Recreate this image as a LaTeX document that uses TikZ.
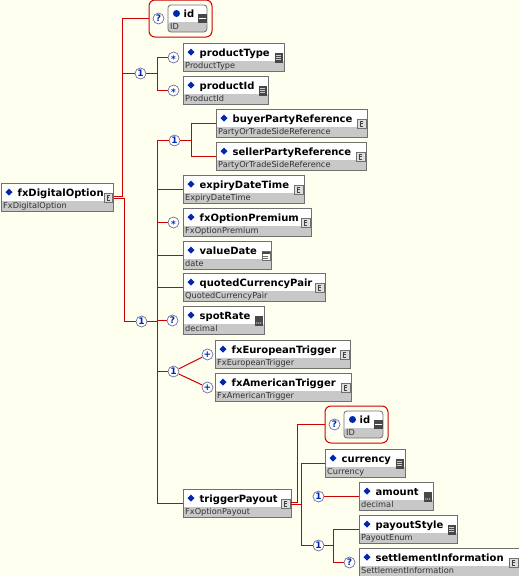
\documentclass[tikz,border=0pt]{standalone}
\usepackage{fontspec}
\setmainfont{DejaVu Sans}
\usetikzlibrary{positioning}
\definecolor{paper}{RGB}{255,255,240}
\definecolor{wirered}{RGB}{204,0,0}
\definecolor{rowgray}{RGB}{200,200,200}
\definecolor{edgegray}{RGB}{112,112,112}
\definecolor{markblue}{RGB}{0,40,170}
\definecolor{icondark}{RGB}{72,72,72}
\definecolor{ringgray}{RGB}{110,110,160}

\tikzset{
  wire/.style={draw=wirered, line width=1pt},
  elbox/.style={draw=edgegray, fill=white, line width=0.8pt, inner sep=0pt,
    minimum height=28pt, anchor=west,
    path picture={\fill[rowgray] ([yshift=-3.5pt]path picture bounding box.west)
      rectangle (path picture bounding box.south east);}},
  attbox/.style={elbox, rounded corners=3pt, minimum width=39pt, minimum height=27pt},
  attframe/.style={draw=wirered, line width=1pt, rounded corners=6pt, inner sep=0pt,
    minimum width=63pt, minimum height=37pt, anchor=west},
  occ/.style={circle, draw=ringgray, fill=white, line width=0.7pt, inner sep=0pt,
    minimum size=11pt, text=markblue, font=\fontsize{9}{9}\selectfont\bfseries},
  namefont/.style={anchor=base west, inner sep=0pt, font=\fontsize{10}{12}\selectfont\bfseries},
  typefont/.style={anchor=base west, inner sep=0pt, text=black!80,
    font=\fontsize{8.2}{10}\selectfont}
}
\newcommand{\many}{\raisebox{-5pt}[0pt][0pt]{*}}

% element box: name, x, ymid, width, label, type, icon
\newcommand{\elem}[7]{%
  \node[elbox, minimum width=#4pt] (#1) at (#2,#3) {};
  \fill[markblue] ([shift={(5pt,5.5pt)}]#1.west) -- ++(3.5pt,3.5pt) -- ++(3.5pt,-3.5pt)
    -- ++(-3.5pt,-3.5pt) -- cycle;
  \node[namefont] at ([shift={(17pt,1pt)}]#1.west) {#5};
  \node[typefont] at ([shift={(2.5pt,-11pt)}]#1.west) {#6};
  #7{#1}}

% attribute id inside its red frame: name, x, ymid
\newcommand{\attr}[3]{%
  \node[attframe] (#1f) at (#2,#3) {};
  \node[occ] (#1o) at ([xshift=10pt]#1f.west) {?};
  \node[attbox] (#1) at ([xshift=19pt]#1f.west) {};
  \fill[markblue] ([shift={(9pt,5pt)}]#1.west) circle (3.5pt);
  \node[namefont] at ([shift={(16pt,1pt)}]#1.west) {id};
  \node[typefont] at ([shift={(2.5pt,-11pt)}]#1.west) {ID};
  \icAttr{#1}}

% icons
\newcommand{\icCplx}[1]{%
  \draw[edgegray, fill=rowgray!60, line width=0.6pt] ([shift={(-10pt,4.5pt)}]#1.east)
    rectangle ([shift={(-1.5pt,-5pt)}]#1.east);
  \draw[black!75, line width=0.6pt] ([shift={(-4pt,2.5pt)}]#1.east) -- ++(-3pt,0)
    -- ++(0,-5.5pt) -- ++(3pt,0) ([shift={(-7pt,0pt)}]#1.east) -- ++(2.5pt,0);}
\newcommand{\icEnum}[1]{%
  \fill[icondark] ([shift={(-9.5pt,4.5pt)}]#1.east) rectangle ([shift={(-1.5pt,-5.5pt)}]#1.east);
  \foreach \k in {2.5,0.5,-1.5}
    \draw[gray!40, line width=0.6pt] ([shift={(-8pt,\k pt)}]#1.east) -- ++(5pt,0);}
\newcommand{\icDec}[1]{%
  \fill[icondark] ([shift={(-9.5pt,4.5pt)}]#1.east) rectangle ([shift={(-1.5pt,-5.5pt)}]#1.east);
  \foreach \k in {-7.5,-5.5,-3.5}
    \fill[white] ([shift={(\k pt,-2.5pt)}]#1.east) circle (0.6pt);}
\newcommand{\icDate}[1]{%
  \draw[edgegray, fill=white, line width=0.6pt] ([shift={(-9.5pt,4pt)}]#1.east)
    rectangle ([shift={(-1.5pt,-5pt)}]#1.east);
  \fill[icondark] ([shift={(-9.5pt,4pt)}]#1.east) rectangle ([shift={(-1.5pt,1.5pt)}]#1.east);
  \draw[edgegray, line width=0.4pt] ([shift={(-8pt,-1pt)}]#1.east) -- ++(5pt,0)
    ([shift={(-8pt,-3pt)}]#1.east) -- ++(5pt,0);}
\newcommand{\icAttr}[1]{%
  \fill[icondark] ([shift={(-9pt,4.5pt)}]#1.east) rectangle ([shift={(-0.5pt,-4.5pt)}]#1.east);
  \draw[white, line width=1pt] ([shift={(-8pt,0pt)}]#1.east) -- ++(6.5pt,0);}

\begin{document}
\begin{tikzpicture}[x=1pt, y=-1pt]
  \useasboundingbox (0,0) rectangle (519,576);
  \fill[paper] (0,0) rectangle (519,576);
  \begin{scope}[shift={(0.5pt,-0.5pt)}]

  % root and first level
  \elem{fxdo}{0}{197}{112.5}{fxDigitalOption}{FxDigitalOption}{\icCplx}
  \attr{ida}{148}{18}
  \node[occ] (c1) at (140,73) {1};
  \node[occ] (optype) at (173,57) {\many};
  \elem{ptype}{182}{57}{101}{productType}{ProductType}{\icEnum}
  \node[occ] (opid) at (173,90) {\many};
  \elem{pid}{182}{90}{85}{productId}{ProductId}{\icEnum}
  \node[occ] (s1) at (141,321) {1};

  % sequence content
  \node[occ] (c2) at (174,140) {1};
  \elem{buyer}{215}{123}{151}{buyerPartyReference}{PartyOrTradeSideReference}{\icCplx}
  \elem{seller}{215}{156}{150}{sellerPartyReference}{PartyOrTradeSideReference}{\icCplx}
  \elem{expiry}{182}{189}{121}{expiryDateTime}{ExpiryDateTime}{\icCplx}
  \node[occ] (oprem) at (173,222) {\many};
  \elem{prem}{182}{222}{128}{fxOptionPremium}{FxOptionPremium}{\icCplx}
  \elem{vdate}{182}{255}{88}{valueDate}{date}{\icDate}
  \elem{qcp}{182}{287}{142}{quotedCurrencyPair}{QuotedCurrencyPair}{\icCplx}
  \node[occ] (ospot) at (172,320) {?};
  \elem{spot}{182}{320}{81}{spotRate}{decimal}{\icDec}
  \node[occ] (c3) at (173,371) {1};
  \node[occ] (oeu) at (207,354) {+};
  \elem{euro}{214}{354}{135}{fxEuropeanTrigger}{FxEuropeanTrigger}{\icCplx}
  \node[occ] (oam) at (207,387) {+};
  \elem{amer}{214}{387}{136}{fxAmericanTrigger}{FxAmericanTrigger}{\icCplx}
  \elem{trig}{182}{503}{108}{triggerPayout}{FxOptionPayout}{\icCplx}

  % triggerPayout content
  \attr{idb}{324}{424}
  \elem{cur}{324}{463}{80}{currency}{Currency}{\icEnum}
  \node[occ] (c4) at (318,496) {1};
  \elem{amt}{358}{496}{74}{amount}{decimal}{\icDec}
  \node[occ] (s2) at (318,545) {1};
  \elem{pstyle}{358}{529}{98}{payoutStyle}{PayoutEnum}{\icEnum}
  \node[occ] (oset) at (349,562) {?};
  \elem{settle}{358}{562}{160}{settlementInformation}{SettlementInformation}{\icCplx}

  % connectors of fxDigitalOption
  \coordinate (ja) at ([shift={(9pt,1pt)}]fxdo.east);
  \coordinate (jb) at ([shift={(11pt,-1pt)}]fxdo.east);
  \draw[wire] ([yshift=1pt]fxdo.east) -- (ja) |- (idaf.west);
  \draw[wire] (ja |- c1) -- (c1.west);
  \draw[wire] ([yshift=-1pt]fxdo.east) -- (jb) |- (s1.west);
  \coordinate (bus) at (157,0);
  \draw[wire] (c1.east) -- (c1 -| bus);
  \draw[wire] (optype.west) -| (c1 -| bus) |- (opid.west);

  % sequence bus
  \draw[wire] (s1.east) -- (s1 -| bus);
  \draw[wire] (c2.west) -| (trig -| bus) -- (trig.west);
  \foreach \n in {expiry,oprem,vdate,qcp,ospot,c3}
    \draw[wire] (\n -| bus) -- (\n.west);
  \coordinate (bus2) at ([xshift=11.5pt]c2.east);
  \draw[wire] (c2.east) -- (bus2);
  \draw[wire] (buyer.west) -| (bus2) |- (seller.west);
  \draw[wire] (c3) -- (oeu);
  \draw[wire] (c3) -- (oam);

  % connectors of triggerPayout
  \coordinate (ta) at ([shift={(6pt,1pt)}]trig.east);
  \coordinate (tb) at ([shift={(10pt,-1pt)}]trig.east);
  \draw[wire] ([yshift=1pt]trig.east) -- (ta) |- (idbf.west);
  \draw[wire] ([yshift=-1pt]trig.east) -- (tb);
  \draw[wire] (cur.west) -| (tb) |- (s2.west);
  \draw[wire] (c4.east) -- (amt.west);
  \coordinate (bus3) at ([xshift=9.5pt]s2.east);
  \draw[wire] (s2.east) -- (bus3);
  \draw[wire] (pstyle.west) -| (bus3) |- (oset.west);
  \end{scope}
\end{tikzpicture}
\end{document}
